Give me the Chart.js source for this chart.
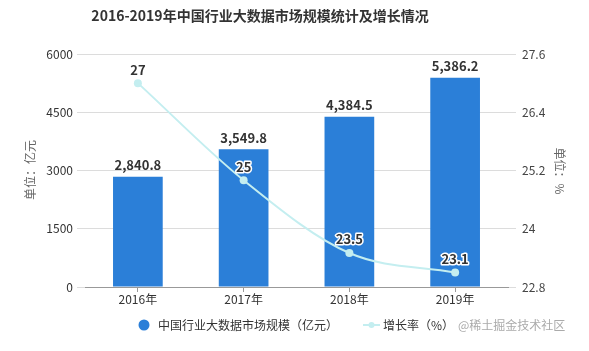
<!DOCTYPE html>
<html>
<head>
<meta charset="utf-8">
<script src="https://cdn.jsdelivr.net/npm/chart.js@4/dist/chart.umd.min.js"></script>
<style>
  html, body { margin: 0; padding: 0; background: #fff; }
  #wrap { width: 589px; height: 351px; position: relative; }
</style>
</head>
<body>
<div id="wrap"><canvas id="c"></canvas></div>
<script>
const years = ['2016年', '2017年', '2018年', '2019年']
const marketSize = [2840.8, 3549.8, 4384.5, 5386.2]
const growthRate = [27, 25, 23.5, 23.1]
const leftTicks = [0, 1500, 3000, 4500, 6000]
const rightTicks = [22.8, 24, 25.2, 26.4, 27.6]

const FONT = '"Noto Sans CJK SC", "Noto Sans", sans-serif'
const barColor = '#2b7fd8'
const lineColor = '#c4eef0'

// draws title, axis titles, value labels and legend
const decor = {
  id: 'decor',
  afterDatasetsDraw (chart) {
    const ctx = chart.ctx
    ctx.save()
    ctx.textAlign = 'center'
    ctx.textBaseline = 'bottom'
    ctx.font = 'bold 13px ' + FONT
    ctx.fillStyle = '#333'
    chart.getDatasetMeta(0).data.forEach((bar, i) => {
      ctx.fillText(marketSize[i].toLocaleString('en-US', { minimumFractionDigits: 1 }), bar.x, bar.y - 5)
    })
    ctx.lineWidth = 3
    ctx.strokeStyle = '#fff'
    ctx.lineJoin = 'round'
    chart.getDatasetMeta(1).data.forEach((pt, i) => {
      ctx.strokeText(String(growthRate[i]), pt.x, pt.y - 7)
      ctx.fillText(String(growthRate[i]), pt.x, pt.y - 7)
    })
    ctx.restore()
  },
  afterDraw (chart) {
    const ctx = chart.ctx
    ctx.save()
    ctx.textAlign = 'center'
    ctx.textBaseline = 'middle'
    ctx.fillStyle = '#333'
    ctx.font = 'bold 14px ' + FONT
    ctx.fillText('2016-2019年中国行业大数据市场规模统计及增长情况', 260, 16)

    ctx.fillStyle = '#666'
    ctx.font = '12px ' + FONT
    ctx.save()
    ctx.translate(30, 170)
    ctx.rotate(-Math.PI / 2)
    ctx.fillText('单位：亿元', 0, 0)
    ctx.restore()
    ctx.save()
    ctx.translate(560, 171)
    ctx.rotate(Math.PI / 2)
    ctx.fillText('单位：%', 0, 0)
    ctx.restore()

    // legend
    const ly = 325
    ctx.fillStyle = barColor
    ctx.beginPath()
    ctx.arc(144, ly, 5.5, 0, Math.PI * 2)
    ctx.fill()
    ctx.textAlign = 'left'
    ctx.fillStyle = '#333'
    ctx.font = '12px ' + FONT
    ctx.fillText('中国行业大数据市场规模（亿元）', 158, ly)
    ctx.strokeStyle = lineColor
    ctx.lineWidth = 2
    ctx.beginPath()
    ctx.moveTo(363, ly)
    ctx.lineTo(380, ly)
    ctx.stroke()
    ctx.fillStyle = lineColor
    ctx.beginPath()
    ctx.arc(371.5, ly, 3, 0, Math.PI * 2)
    ctx.fill()
    ctx.fillStyle = '#333'
    ctx.fillText('增长率（%）', 383, ly)
    ctx.fillStyle = '#aaa'
    ctx.fillText('@稀土掘金技术社区', 458, ly)
    ctx.restore()
  }
}

new Chart(document.getElementById('c').getContext('2d'), {
  type: 'bar',
  data: {
    labels: years,
    datasets: [
      {
        type: 'bar',
        label: '中国行业大数据市场规模（亿元）',
        data: marketSize,
        backgroundColor: barColor,
        yAxisID: 'y',
        barPercentage: 0.47,
        categoryPercentage: 1,
        order: 2
      },
      {
        type: 'line',
        label: '增长率（%）',
        data: growthRate,
        borderColor: lineColor,
        backgroundColor: lineColor,
        borderWidth: 2,
        pointRadius: 4,
        pointBorderWidth: 0,
        cubicInterpolationMode: 'monotone',
        yAxisID: 'y1',
        order: 1
      }
    ]
  },
  options: {
    responsive: true,
    maintainAspectRatio: false,
    animation: false,
    layout: { padding: { top: 54, left: 0, right: 0, bottom: 0 } },
    plugins: {
      legend: { display: false },
      title: { display: false },
      tooltip: { enabled: false }
    },
    scales: {
      x: {
        grid: { display: true, drawOnChartArea: false, offset: false, tickLength: 5, color: '#999' },
        border: { color: '#999' },
        ticks: { color: '#333', font: { size: 12, family: FONT }, padding: 0 },
        afterFit: (s) => { s.height = 64 }
      },
      y: {
        position: 'left',
        min: 0,
        max: 6000,
        afterBuildTicks: (s) => { s.ticks = leftTicks.map(v => ({ value: v })) },
        grid: { color: '#dcdcdc', tickLength: 8 },
        border: { display: false },
        ticks: {
          color: '#333',
          font: { size: 12, family: FONT },
          padding: 4,
          callback: (v) => String(v)
        },
        afterFit: (s) => { s.width = 85 }
      },
      y1: {
        position: 'right',
        min: 22.8,
        max: 27.6,
        afterBuildTicks: (s) => { s.ticks = rightTicks.map(v => ({ value: v })) },
        grid: { drawOnChartArea: false, color: '#dcdcdc', tickLength: 8 },
        border: { display: false },
        ticks: {
          color: '#444',
          font: { size: 12, family: FONT },
          padding: 6,
          callback: (v) => String(Math.round(v * 10) / 10)
        },
        afterFit: (s) => { s.width = 81 }
      }
    }
  },
  plugins: [decor]
})
</script>
</body>
</html>
